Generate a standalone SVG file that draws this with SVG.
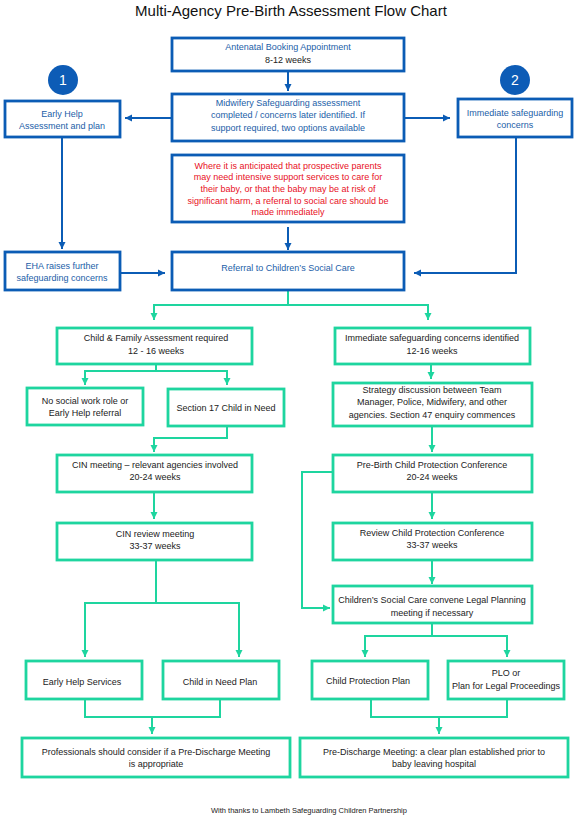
<svg xmlns="http://www.w3.org/2000/svg" width="577" height="818" viewBox="0 0 577 818">
<style>
text{font-family:"Liberation Sans",Arial,sans-serif;font-size:9px;text-anchor:middle}
.title{font-size:15px;fill:#111}
.bt{fill:#1B5EA8}
.k{fill:#222}
.r{fill:#E8101E}
.bb{fill:#fff;stroke:#0B5CB5;stroke-width:2.8}
.gb{fill:#fff;stroke:#1ED59F;stroke-width:2.8}
.bl{fill:none;stroke:#0B5CB5;stroke-width:2}
.gl{fill:none;stroke:#1ED59F;stroke-width:2}
.foot{font-size:7.5px;fill:#222}
.num{fill:#fff;font-size:14px}
</style>
<defs>
<marker id="ab" markerUnits="userSpaceOnUse" markerWidth="8" markerHeight="8" refX="7" refY="4" orient="auto"><path d="M0,0.5 L7,4 L0,7.5 z" fill="#0B5CB5"/></marker>
<marker id="ag" markerUnits="userSpaceOnUse" markerWidth="8" markerHeight="8" refX="7" refY="4" orient="auto"><path d="M0,0.5 L7,4 L0,7.5 z" fill="#1ED59F"/></marker>
</defs>
<rect width="577" height="818" fill="#fff"/>
<text class="title" x="291" y="16">Multi-Agency Pre-Birth Assessment Flow Chart</text>

<g id="connectors">
<path class="bl" d="M288,71 V91" marker-end="url(#ab)"/>
<path class="bl" d="M172,118 H125" marker-end="url(#ab)"/>
<path class="bl" d="M405,118 H450" marker-end="url(#ab)"/>
<path class="bl" d="M62,137 V249" marker-end="url(#ab)"/>
<path class="bl" d="M120,273 H165" marker-end="url(#ab)"/>
<path class="bl" d="M288,227 V250" marker-end="url(#ab)"/>
<path class="bl" d="M516,137 V273 H414" marker-end="url(#ab)"/>
<path class="gl" d="M288,290 V305 H154 V320" marker-end="url(#ag)"/>
<path class="gl" d="M288,305 H428 V320" marker-end="url(#ag)"/>
<path class="gl" d="M156,364 V371 H85 V385" marker-end="url(#ag)"/>
<path class="gl" d="M156,371 H227 V385" marker-end="url(#ag)"/>
<path class="gl" d="M431,364 V379" marker-end="url(#ag)"/>
<path class="gl" d="M227,426 V438 H154 V452" marker-end="url(#ag)"/>
<path class="gl" d="M432,426 V452" marker-end="url(#ag)"/>
<path class="gl" d="M154,492 V519" marker-end="url(#ag)"/>
<path class="gl" d="M432,492 V519" marker-end="url(#ag)"/>
<path class="gl" d="M432,560 V584" marker-end="url(#ag)"/>
<path class="gl" d="M333,472 H302 V608 H330" marker-end="url(#ag)"/>
<path class="gl" d="M156,560 V603 H85 V657" marker-end="url(#ag)"/>
<path class="gl" d="M156,603 H239 V657" marker-end="url(#ag)"/>
<path class="gl" d="M432,623 V636 H365 V657" marker-end="url(#ag)"/>
<path class="gl" d="M432,636 H507 V657" marker-end="url(#ag)"/>
<path class="gl" d="M85,699 V717 H220 V699"/>
<path class="gl" d="M152,717 V734" marker-end="url(#ag)"/>
<path class="gl" d="M371,699 V717 H507 V699"/>
<path class="gl" d="M439,717 V734" marker-end="url(#ag)"/>
</g>

<g id="circle1"><circle cx="63" cy="80" r="15" fill="#0D5CB6"/><text class="num" x="63" y="85">1</text></g>
<g id="circle2"><circle cx="515" cy="80" r="15" fill="#0D5CB6"/><text class="num" x="515" y="85">2</text></g>

<g id="antenatal"><rect class="bb" x="172" y="38" width="232" height="33"/><text class="bt" x="288" y="50">Antenatal Booking Appointment</text><text class="k" x="288" y="63">8-12 weeks</text></g>
<g id="midwifery"><rect class="bb" x="172" y="94" width="232" height="47"/><text class="bt" x="288" y="106">Midwifery Safeguarding assessment</text><text class="bt" x="288" y="118">completed / concerns later identified. If</text><text class="bt" x="288" y="131">support required, two options available</text></g>
<g id="earlyhelp"><rect class="bb" x="5" y="101" width="115" height="36"/><text class="bt" x="62" y="117">Early Help</text><text class="bt" x="62" y="129">Assessment and plan</text></g>
<g id="immediate"><rect class="bb" x="458" y="99" width="114" height="38"/><text class="bt" x="515" y="116">Immediate safeguarding</text><text class="bt" x="515" y="128">concerns</text></g>
<g id="redbox"><rect class="bb" x="172" y="155" width="232" height="67"/><text class="r" x="288" y="169">Where it is anticipated that prospective parents</text><text class="r" x="288" y="180">may need intensive support services to care for</text><text class="r" x="288" y="192">their baby, or that the baby may be at risk of</text><text class="r" x="288" y="204">significant harm, a referral to social care should be</text><text class="r" x="288" y="215">made immediately</text></g>
<g id="eha"><rect class="bb" x="5" y="252" width="115" height="38"/><text class="bt" x="62" y="269">EHA raises further</text><text class="bt" x="62" y="281">safeguarding concerns</text></g>
<g id="referral"><rect class="bb" x="172" y="252" width="232" height="38"/><text class="bt" x="288" y="271">Referral to Children’s Social Care</text></g>

<g id="cfa"><rect class="gb" x="57" y="328" width="195" height="36"/><text class="k" x="156" y="341">Child &amp; Family Assessment required</text><text class="k" x="156" y="354">12 - 16 weeks</text></g>
<g id="isci"><rect class="gb" x="335" y="328" width="195" height="36"/><text class="k" x="432" y="341">Immediate safeguarding concerns identified</text><text class="k" x="432" y="354">12-16 weeks</text></g>
<g id="nosocial"><rect class="gb" x="27" y="388" width="116" height="37"/><text class="k" x="85" y="404">No social work role or</text><text class="k" x="85" y="416">Early Help referral</text></g>
<g id="s17"><rect class="gb" x="168" y="389" width="116" height="37"/><text class="k" x="226" y="411">Section 17 Child in Need</text></g>
<g id="strategy"><rect class="gb" x="333" y="383" width="199" height="43"/><text class="k" x="432" y="393">Strategy discussion between Team</text><text class="k" x="432" y="405">Manager, Police, Midwifery, and other</text><text class="k" x="432" y="418">agencies. Section 47 enquiry commences</text></g>
<g id="cinmeeting"><rect class="gb" x="57" y="455" width="195" height="37"/><text class="k" x="155" y="468">CIN meeting – relevant agencies involved</text><text class="k" x="155" y="480">20-24 weeks</text></g>
<g id="prebirth"><rect class="gb" x="333" y="455" width="199" height="37"/><text class="k" x="432" y="468">Pre-Birth Child Protection Conference</text><text class="k" x="432" y="480">20-24 weeks</text></g>
<g id="cinreview"><rect class="gb" x="57" y="523" width="195" height="37"/><text class="k" x="155" y="537">CIN review meeting</text><text class="k" x="155" y="549">33-37 weeks</text></g>
<g id="reviewcp"><rect class="gb" x="333" y="523" width="199" height="37"/><text class="k" x="432" y="536">Review Child Protection Conference</text><text class="k" x="432" y="548">33-37 weeks</text></g>
<g id="legal"><rect class="gb" x="333" y="586" width="199" height="37"/><text class="k" x="432" y="603">Children’s Social Care convene Legal Planning</text><text class="k" x="432" y="616">meeting if necessary</text></g>
<g id="ehs"><rect class="gb" x="26" y="661" width="116" height="38"/><text class="k" x="82" y="685">Early Help Services</text></g>
<g id="cinp"><rect class="gb" x="163" y="661" width="116" height="38"/><text class="k" x="220" y="685">Child in Need Plan</text></g>
<g id="cpp"><rect class="gb" x="312" y="661" width="116" height="38"/><text class="k" x="368" y="684">Child Protection Plan</text></g>
<g id="plo"><rect class="gb" x="448" y="661" width="116" height="38"/><text class="k" x="506" y="676">PLO or</text><text class="k" x="506" y="689">Plan for Legal Proceedings</text></g>
<g id="professionals"><rect class="gb" x="22" y="738" width="268" height="39"/><text class="k" x="156" y="755">Professionals should consider if a Pre-Discharge Meeting</text><text class="k" x="156" y="767">is appropriate</text></g>
<g id="predischarge"><rect class="gb" x="300" y="738" width="268" height="39"/><text class="k" x="434" y="755">Pre-Discharge Meeting: a clear plan established prior to</text><text class="k" x="434" y="767">baby leaving hospital</text></g>
<text class="foot" x="309" y="813">With thanks to Lambeth Safeguarding Children Partnership</text>
</svg>
